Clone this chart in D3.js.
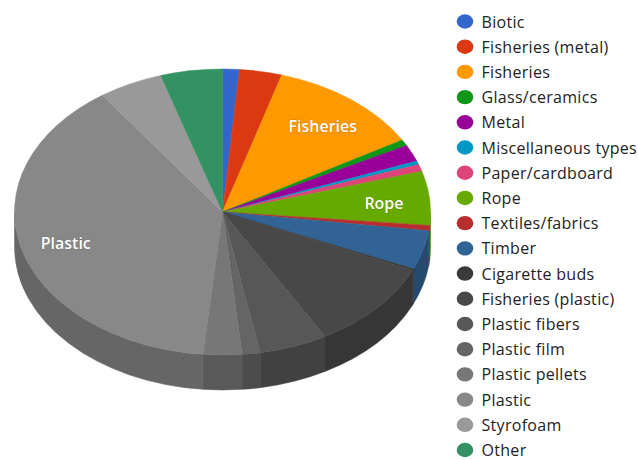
<!DOCTYPE html>
<html>
<head>
<meta charset="utf-8">
<script src="https://cdn.jsdelivr.net/npm/d3@7"></script>
<style>
  html, body { margin: 0; padding: 0; background: #ffffff; }
  svg { display: block; }
</style>
</head>
<body>
<svg id="chart" width="638" height="460"></svg>
<script>
// Marine litter composition (% of items)
const categories = [
  "Biotic", "Fisheries (metal)", "Fisheries", "Glass/ceramics", "Metal",
  "Miscellaneous types", "Paper/cardboard", "Rope", "Textiles/fabrics", "Timber",
  "Cigarette buds", "Fisheries (plastic)", "Plastic fibers", "Plastic film",
  "Plastic pellets", "Plastic", "Styrofoam", "Other"
];
const values = [
  1.3, 3.3, 12.0, 0.7, 1.9,
  0.4, 0.8, 6.1, 0.6, 4.4,
  0.2, 10.1, 5.3, 1.4,
  3.0, 38.7, 5.0, 4.8
];
const colors = [
  "#3366cc", "#dc3912", "#ff9900", "#109618", "#990099",
  "#0099c6", "#dd4477", "#66aa00", "#b82e2e", "#316395",
  "#3a3a3a", "#484848", "#575757", "#656565",
  "#777777", "#888888", "#999999", "#329262"
];
const labeled = ["Fisheries", "Rope", "Plastic"];

const svg = d3.select("#chart");

// 3D pie geometry
const cx = 222.5, cy = 212, rx = 208, ry = 143, depth = 35;
const k = ry / rx;             // vertical squash of the tilted disc
const dScaled = depth / k;     // depth expressed in unsquashed units

const data = categories.map((c, i) => ({ name: c, value: values[i], color: colors[i] }));
const pie = d3.pie().sort(null).value(d => d.value).startAngle(0).endAngle(2 * Math.PI);
const arcs = pie(data);

const disc = svg.append("g")
  .attr("transform", `translate(${cx},${cy}) scale(1,${k})`);

// Outer wall: only the front half (angles between PI/2 and 3PI/2) faces the viewer
const lo = Math.PI / 2, hi = 3 * Math.PI / 2;
function wallPath(a0, a1) {
  const s = Math.max(a0, lo), e = Math.min(a1, hi);
  if (e <= s) return null;
  const p = d3.path();
  p.moveTo(rx * Math.sin(s), -rx * Math.cos(s));
  p.arc(0, 0, rx, s - Math.PI / 2, e - Math.PI / 2);
  p.lineTo(rx * Math.sin(e), -rx * Math.cos(e) + dScaled);
  p.arc(0, dScaled, rx, e - Math.PI / 2, s - Math.PI / 2, true);
  p.closePath();
  return p.toString();
}

disc.append("g").selectAll("path")
  .data(arcs.filter(a => wallPath(a.startAngle, a.endAngle)))
  .join("path")
  .attr("d", a => wallPath(a.startAngle, a.endAngle))
  .attr("fill", a => d3.color(a.data.color).darker(0.8))
  .attr("stroke", a => d3.color(a.data.color).darker(0.8))
  .attr("stroke-width", 0.6);

// Top face
const arcGen = d3.arc().innerRadius(0).outerRadius(rx);
disc.append("g").selectAll("path")
  .data(arcs)
  .join("path")
  .attr("d", arcGen)
  .attr("fill", a => a.data.color)
  .attr("stroke", a => a.data.color)
  .attr("stroke-width", 0.6);

// Data labels on the larger slices
const labelR = rx * 0.78;
svg.append("g").selectAll("text")
  .data(arcs.filter(a => labeled.includes(a.data.name)))
  .join("text")
  .attr("x", a => cx + labelR * Math.sin((a.startAngle + a.endAngle) / 2))
  .attr("y", a => cy - labelR * k * Math.cos((a.startAngle + a.endAngle) / 2) + 2)
  .attr("text-anchor", "middle")
  .attr("dominant-baseline", "central")
  .attr("font-family", "'Open Sans', 'Noto Sans', sans-serif")
  .attr("font-size", 16)
  .attr("font-weight", 600)
  .attr("fill", "#ffffff")
  .attr("stroke", "rgba(0,0,0,0.2)")
  .attr("stroke-width", 1)
  .attr("paint-order", "stroke")
  .text(a => a.data.name);

// Legend
const legendY = d3.scalePoint().domain(categories).range([21.5, 450]);
const legend = svg.append("g");
const items = legend.selectAll("g")
  .data(data)
  .join("g")
  .attr("transform", d => `translate(465,${legendY(d.name)})`);
items.append("ellipse")
  .attr("rx", 8.3).attr("ry", 7.2)
  .attr("fill", d => d.color);
items.append("text")
  .attr("x", 16.5)
  .attr("dominant-baseline", "central")
  .attr("font-family", "'Open Sans', 'Noto Sans', sans-serif")
  .attr("font-size", 16)
  .attr("letter-spacing", 0.3)
  .attr("fill", "#222222")
  .text(d => d.name);
</script>
</body>
</html>
